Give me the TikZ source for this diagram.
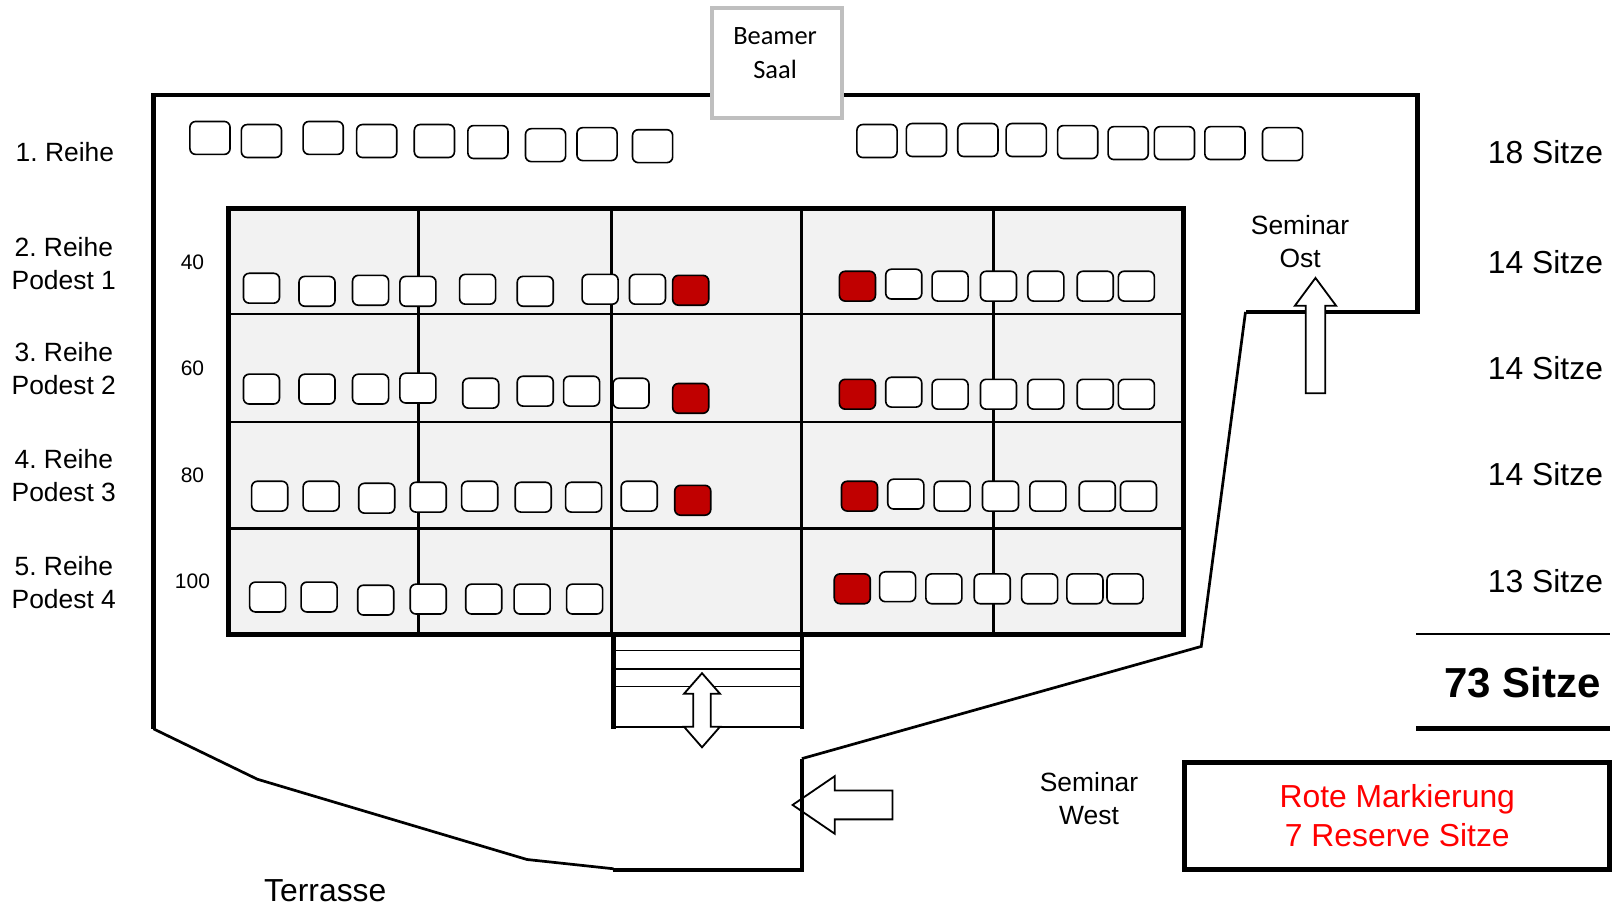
\documentclass[tikz,border=0pt]{standalone}
\usepackage{fontspec}
\setmainfont{Liberation Sans}
\newfontfamily\beamerfont{Carlito}
\usepackage{tikz}
\usepackage{xcolor}
\frenchspacing
\definecolor{reserve-red}{HTML}{C00000}
\definecolor{podest-grey}{HTML}{F2F2F2}
\definecolor{beamer-grey}{HTML}{BFBFBF}
\tikzset{
    seat/.style = {draw, fill=white, line width=0.45pt, rectangle, rounded corners=1.6pt, minimum width=3.5mm, minimum height=2.9mm, inner sep=0pt},
    seat-front/.style = {seat, minimum width=3.9mm, minimum height=3.2mm},
    seat-reserve/.style = {seat, fill=reserve-red},
    wall/.style = {line width=1.2pt},
    wall-thin/.style = {line width=0.75pt},
    room-label/.style = {font=\fontsize{7.3}{9.1}\selectfont, align=center, inner sep=0pt},
    count-label/.style = {font=\fontsize{8.8}{10.5}\selectfont, anchor=east, inner sep=0pt},
    level-label/.style = {font=\fontsize{5.8}{7}\selectfont, inner sep=0pt},
    door-arrow/.style = {draw, fill=white, line width=0.5pt, line join=miter},
    beamer-box/.style = {draw=beamer-grey, fill=white, line width=1.1pt, minimum width=12.6mm, minimum height=10.7mm},
    legend-box/.style = {draw, line width=1.35pt, minimum width=41.3mm, minimum height=10.4mm, text=red, align=center, font=\fontsize{8.8}{10.8}\selectfont},
}

\begin{document}
\begin{tikzpicture}[x=0.1mm, y=-0.1mm]
\useasboundingbox (0,0) rectangle (1568,880.2);

\fill[podest-grey] (222,203) rectangle (1150,616);
\foreach \y in {305,410,513} \draw[line width=0.8pt] (222,\y) -- (1150,\y);
\foreach \x in {407,594,779,965} \draw[line width=0.8pt] (\x,203) -- (\x,616);
\draw[line width=1.4pt] (222,203) rectangle (1150,616);

\draw[line width=1.2pt] (596,616) -- (596,708) (779,616) -- (779,708);
\foreach \y in {632,650,667,706} \draw[line width=0.5pt] (596,\y) -- (779,\y);
\draw[door-arrow] (682,654) -- (699.5,674) -- (690.5,674) -- (690.5,706) -- (699.5,706) -- (682,726) -- (664.5,706) -- (673.5,706) -- (673.5,674) -- (664.5,674) -- cycle;

\draw[door-arrow] (770,782) -- (811,754) -- (811,768) -- (867,768) -- (867,796) -- (811,796) -- (811,810) -- cycle;

\draw[wall] (149,708) -- (149,92) -- (692,92);
\draw[wall] (818,92) -- (1377,92) -- (1377,305);
\draw[wall] (1377,303) -- (1210,303);
\draw[wall-thin] (1210,303) -- (1167,628) -- (779,737);
\draw[wall] (779,737) -- (779,845) -- (596,845);
\draw[wall-thin] (596,844) -- (512,835) -- (250,757) -- (149,708);

\draw[door-arrow] (1278,270) -- (1298,297) -- (1287.5,297) -- (1287.5,382) -- (1268.5,382) -- (1268.5,297) -- (1258,297) -- cycle;

\node[beamer-box] (beamer) at (755,61.5) {};
\node[font=\beamerfont\fontsize{7.3}{9.4}\selectfont, align=center, inner sep=0pt] (beamer-text) at (753,52) {Beamer\\Saal};

\foreach \x/\y [count=\i] in {204/134,254/137,314/134,366/137,422/137,474/138,530/141,580/140,634/142,852/137,900/136,950/136,997/136,1047/138,1096/139,1141/139,1190/139,1246/140}
    \node[seat-front] (r1-\i) at (\x,\y) {};
\foreach \x/\y [count=\i] in {254/280,308/283,360/282,406/283,464/281,520/283,583/281,629/281,878/276,923/278,970/278,1016/278,1064/278,1104/278}
    \node[seat] (r2-\i) at (\x,\y) {};
\foreach \x/\y [count=\i] in {254/378,308/378,360/378,406/377,467/382,520/380,565/380,613/382,878/381,923/383,970/383,1016/383,1064/383,1104/383}
    \node[seat] (r3-\i) at (\x,\y) {};
\foreach \x/\y [count=\i] in {262/482,312/482,366/484,416/483,466/482,518/483,567/483,621/482,880/480,925/482,972/482,1018/482,1066/482,1106/482}
    \node[seat] (r4-\i) at (\x,\y) {};
\foreach \x/\y [count=\i] in {260/580,310/580,365/583,416/582,470/582,517/582,568/582,872/570,917/572,964/572,1010/572,1054/572,1093/572}
    \node[seat] (r5-\i) at (\x,\y) {};
\foreach \x/\y [count=\i] in {671/282,833/278,671/387,833/383,673/486,835/482,828/572}
    \node[seat-reserve] (res-\i) at (\x,\y) {};

\node[room-label] (row-1) at (63,148) {1. Reihe};
\node[room-label] (row-2) at (62,256) {2. Reihe\\Podest 1};
\node[room-label] (row-3) at (62,358) {3. Reihe\\Podest 2};
\node[room-label] (row-4) at (62,462) {4. Reihe\\Podest 3};
\node[room-label] (row-5) at (62,566) {5. Reihe\\Podest 4};

\node[level-label] (level-1) at (187,255) {40};
\node[level-label] (level-2) at (187,358) {60};
\node[level-label] (level-3) at (187,462) {80};
\node[level-label] (level-4) at (187,565) {100};

\node[count-label] (count-1) at (1558,148) {18 Sitze};
\node[count-label] (count-2) at (1558,255) {14 Sitze};
\node[count-label] (count-3) at (1558,358) {14 Sitze};
\node[count-label] (count-4) at (1558,461) {14 Sitze};
\node[count-label] (count-5) at (1558,565) {13 Sitze};
\draw[line width=0.6pt] (1376,616) -- (1564,616);
\node[count-label, font=\bfseries\fontsize{11.6}{13}\selectfont] (total) at (1556,663) {73 Sitze};
\draw[line width=1.3pt] (1376,708) -- (1564,708);

\node[legend-box] (legend) at (1357.5,792.5) {Rote Markierung\\7 Reserve Sitze};

\node[room-label] (seminar-ost) at (1263,235) {Seminar\\Ost};
\node[room-label] (seminar-west) at (1058,776) {Seminar\\West};
\node[room-label, font=\fontsize{8.8}{10.5}\selectfont] (terrasse) at (316,865) {Terrasse};
\end{tikzpicture}
\end{document}
